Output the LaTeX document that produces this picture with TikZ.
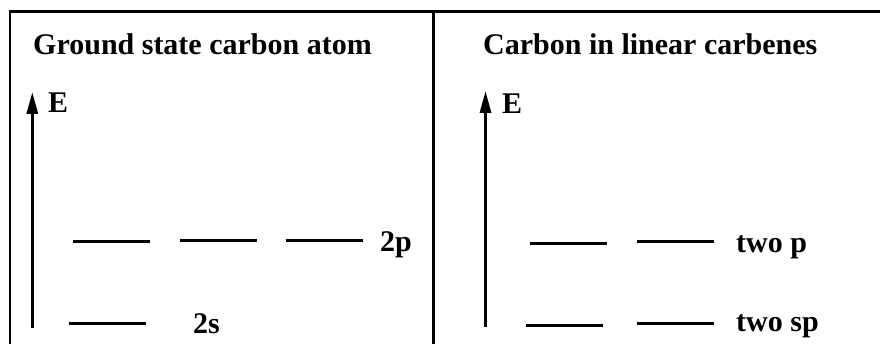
\documentclass[tikz,border=0pt]{standalone}
\usepackage{fontspec}
\setmainfont{Liberation Serif}
\usetikzlibrary{arrows.meta}
\tikzset{
  lbl/.style={anchor=base west, inner sep=0pt, font=\fontsize{30}{36}\selectfont\bfseries},
  frameline/.style={line width=2.4pt},
  midline/.style={line width=3.4pt},
  level/.style={line width=3pt},
  eaxis/.style={line width=3.2pt, -{Triangle[length=22pt,width=11pt]}}
}
\begin{document}
\begin{tikzpicture}[x=1pt,y=-1pt]
\useasboundingbox (0,0) rectangle (880,344);
% frame
\coordinate (tl) at (10,11.5);
\coordinate (tr) at (880,11.5);
\coordinate (bl) at (10,344);
\coordinate (mt) at (433.5,11.5);
\coordinate (mb) at (433.5,344);
\draw[frameline] (bl) -- (tl) -- (tr);
\draw[midline] (mt) -- (mb);
% titles
\node[lbl] (t1) at (33,55) {Ground state carbon atom};
\node[lbl] (t2) at (483,55) {Carbon in linear carbenes};
% energy axes
\coordinate (a1b) at (32.3,328);
\coordinate (a1t) at (32.3,92);
\draw[eaxis] (a1b) -- (a1t);
\node[lbl] (e1) at (48,113) {E};
\coordinate (a2b) at (485.5,327);
\coordinate (a2t) at (485.5,91);
\draw[eaxis] (a2b) -- (a2t);
\node[lbl] (e2) at (502,114) {E};
% left levels
\coordinate (p1a) at (73,242); \coordinate (p1b) at (150,242);
\coordinate (p2a) at (180,241); \coordinate (p2b) at (257,241);
\coordinate (p3a) at (286,241); \coordinate (p3b) at (363,241);
\coordinate (s1a) at (69,323.5); \coordinate (s1b) at (146,323.5);
\draw[level] (p1a) -- (p1b);
\draw[level] (p2a) -- (p2b);
\draw[level] (p3a) -- (p3b);
\draw[level] (s1a) -- (s1b);
\node[lbl] (l2p) at (380,252) {2p};
\node[lbl] (l2s) at (193,334) {2s};
% right levels
\coordinate (q1a) at (530,243.5); \coordinate (q1b) at (607,243.5);
\coordinate (q2a) at (637,242); \coordinate (q2b) at (714,242);
\coordinate (r1a) at (526,325); \coordinate (r1b) at (603,325);
\coordinate (r2a) at (637,323.5); \coordinate (r2b) at (714,323.5);
\draw[level] (q1a) -- (q1b);
\draw[level] (q2a) -- (q2b);
\draw[level] (r1a) -- (r1b);
\draw[level] (r2a) -- (r2b);
\node[lbl] (ltp) at (736,253) {two p};
\node[lbl] (ltsp) at (736,331) {two sp};
\end{tikzpicture}
\end{document}
